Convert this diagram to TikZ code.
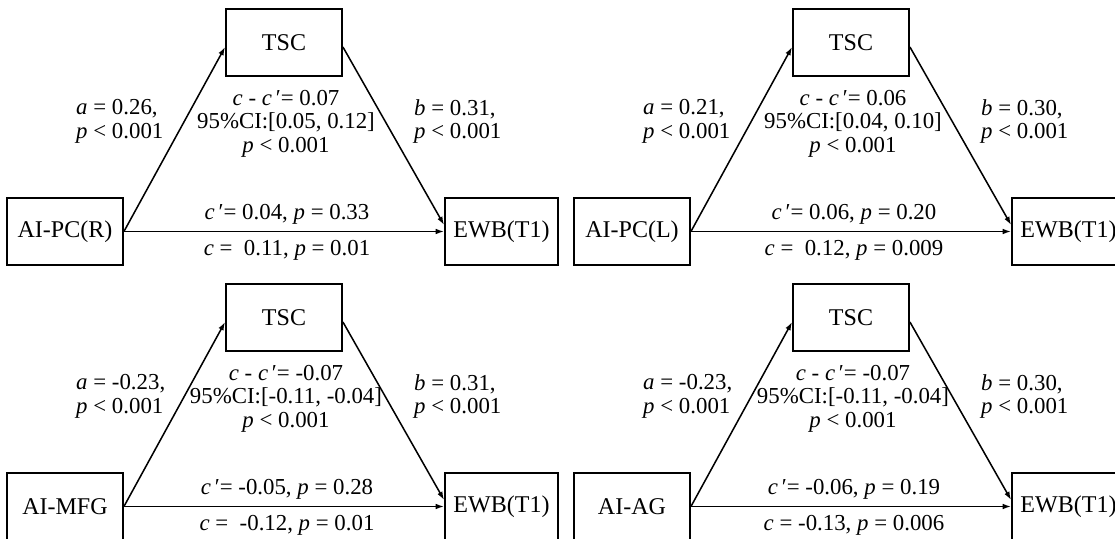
\documentclass[tikz,border=0pt]{standalone}
\usepackage{fontspec}
\setmainfont{Liberation Serif}
\usetikzlibrary{arrows.meta}

\tikzset{
  var/.style={draw=black,line width=1.6pt,inner sep=0pt,minimum height=2.01cm,font=\fontsize{20.5pt}{21pt}\selectfont},
  path/.style={draw=black,line width=1.3pt,-{Latex[length=2.5mm,width=1.7mm]}},
  coef/.style={inner sep=0pt,font=\fontsize{19.5pt}{20pt}\selectfont}
}

\newcommand{\drawmodel}[9]{% Parameters: x shift, y shift, predictor, a, b, indirect, CI, direct, total
  \begin{scope}[shift={(#1,#2)}]
    \node[var,minimum width=3.48cm] (X) at (65,231.5) {#3};
    \node[var,minimum width=3.48cm] (M) at (284,42.5) {TSC};
    \node[var,minimum width=3.39cm] (Y) at (501.5,231.5) {EWB(T1)};
    \draw[path] (X.east) -- ([yshift=-0.135cm]M.west);
    \draw[path] ([yshift=-0.135cm]M.east) -- ([yshift=0.195cm]Y.west);
    \draw[path] (X.east) -- (Y.west);
    \node[coef,align=left,anchor=west] (a) at (76,121.5) {\textit{a} = #4,\\\textit{p} < 0.001};
    \node[coef,align=left,anchor=west] (b) at (414,121.5) {\textit{b} = #5,\\\textit{p} < 0.001};
    \node[coef,align=center] (ind) at (286,123.5) {\textit{c} - \textit{c}\,′= #6\\95\%CI:#7\\\textit{p} < 0.001};
    \node[coef] (dir) at (287,214) {\textit{c}\,′= #8};
    \node[coef] (tot) at (287,250) {\textit{c} = #9};
  \end{scope}
}

\begin{document}
\begin{tikzpicture}[x=0.03cm,y=-0.03cm]
  \useasboundingbox (0,0) rectangle (1115,539);
  \fill[white] (0,0) rectangle (1115,539);
  \clip (0,0) rectangle (1115,539);
  \drawmodel{0}{0}{AI-PC(R)}{0.26}{0.31}{0.07}{[0.05, 0.12]}{0.04, \textit{p} = 0.33}{\ 0.11, \textit{p} = 0.01}
  \drawmodel{567}{0}{AI-PC(L)}{0.21}{0.30}{0.06}{[0.04, 0.10]}{0.06, \textit{p} = 0.20}{\ 0.12, \textit{p} = 0.009}
  \drawmodel{0}{275}{AI-MFG}{-0.23}{0.31}{-0.07}{[-0.11, -0.04]}{-0.05, \textit{p} = 0.28}{\ -0.12, \textit{p} = 0.01}
  \drawmodel{567}{275}{AI-AG}{-0.23}{0.30}{-0.07}{[-0.11, -0.04]}{-0.06, \textit{p} = 0.19}{-0.13, \textit{p} = 0.006}
\end{tikzpicture}
\end{document}
